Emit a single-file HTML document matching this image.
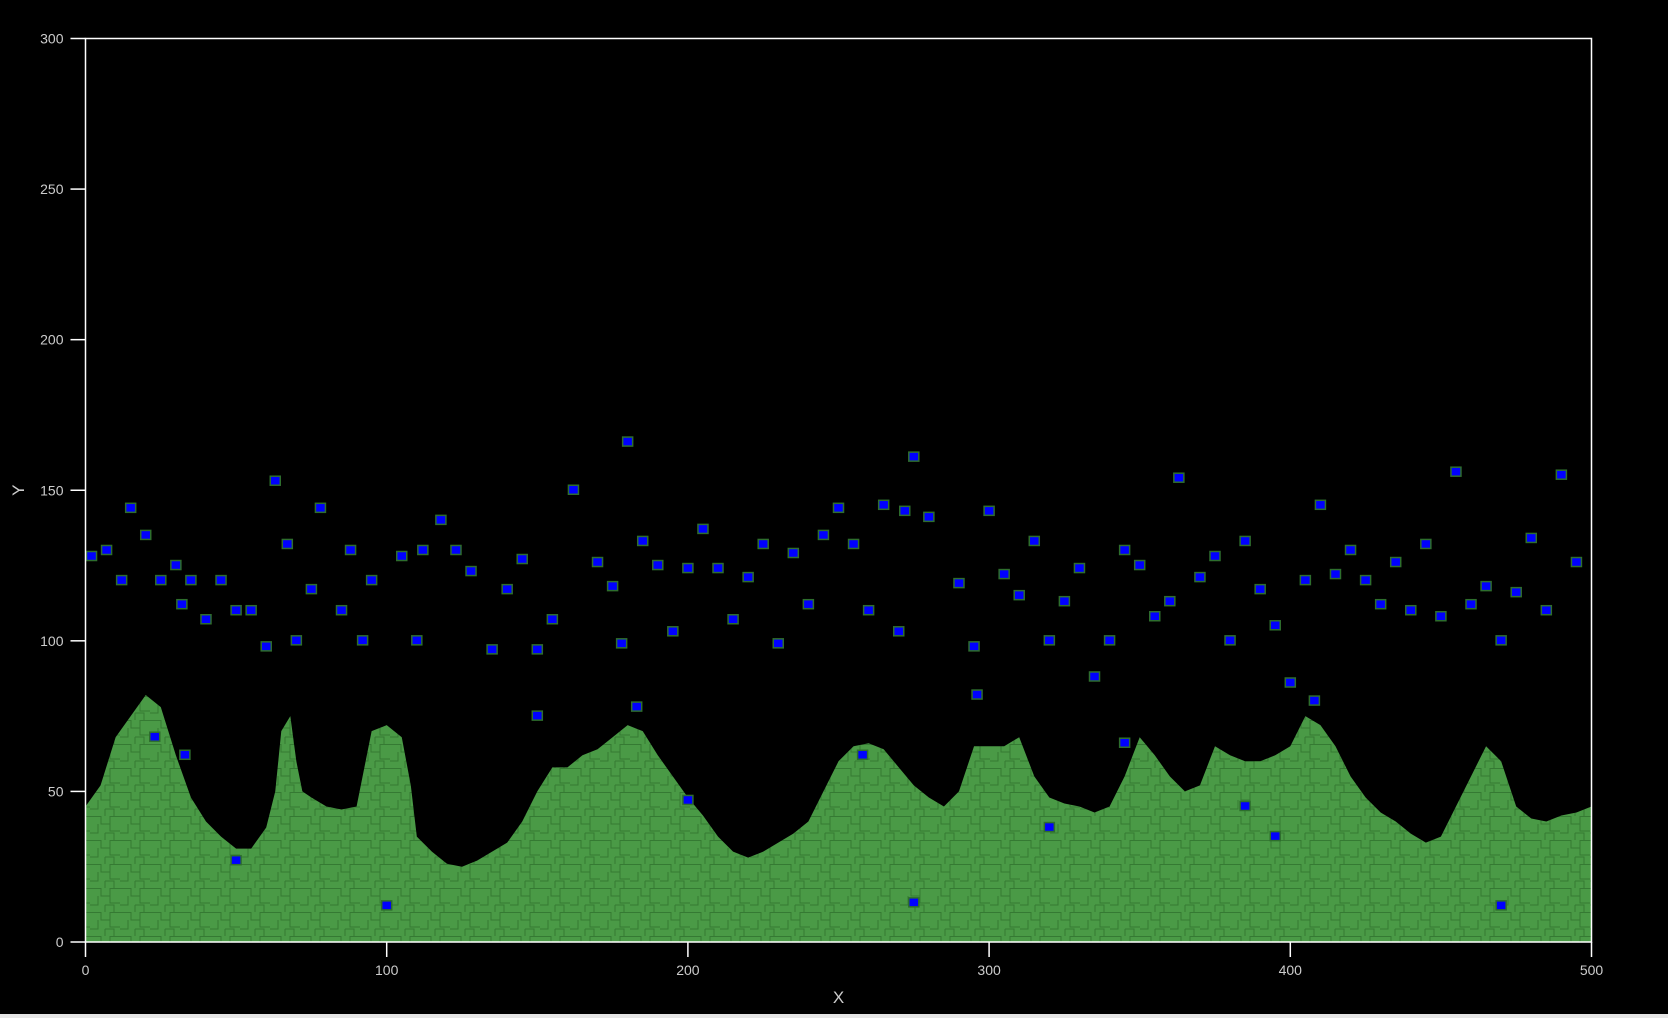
<!DOCTYPE html>
<html><head><meta charset="utf-8"><style>
html,body{margin:0;padding:0;background:#000;}
body{width:1668px;height:1018px;overflow:hidden;position:relative;font-family:"Liberation Sans",sans-serif;}
#strip{position:absolute;left:0;top:1014px;width:1668px;height:4px;background:#e6e6e6;}
</style></head><body>
<svg id="chart" width="1668" height="1014" style="position:absolute;left:0;top:0">
<defs>
<pattern id="cells" width="30" height="24" patternUnits="userSpaceOnUse">
<rect width="30" height="24" fill="#4a9a46"/>
<path d="M0 0.5H11V8H20V0.5H30M8 8V17H0M20 8V15H30M15 17V24M15 17H24V24" fill="none" stroke="#357a33" stroke-width="1"/>
</pattern>
</defs>
<g id="plot"></g>
<g id="axes"></g>
</svg>
<div id="strip"></div>
<script>
const profileX=[0,5,10,15,20,25,30,35,40,45,50,55,60,63,65,68,70,72,75,80,85,90,95,100,105,108,110,115,120,125,130,135,140,145,150,155,160,165,170,175,180,185,190,195,200,205,210,215,220,225,230,235,240,245,250,255,260,265,270,275,280,285,290,295,300,305,310,315,320,325,330,335,340,345,350,355,360,365,370,375,380,385,390,395,400,405,410,415,420,425,430,435,440,445,450,455,460,465,470,475,480,485,490,495,500];
const profileY=[45,52,68,75,82,78,62,48,40,35,31,31,38,50,70,75,60,50,48,45,44,45,70,72,68,52,35,30,26,25,27,30,33,40,50,58,58,62,64,68,72,70,62,55,48,42,35,30,28,30,33,36,40,50,60,65,66,64,58,52,48,45,50,65,65,65,68,55,48,46,45,43,45,55,68,62,55,50,52,65,62,60,60,62,65,75,72,65,55,48,43,40,36,33,35,45,55,65,60,45,41,40,42,43,45];
const particleX=[2,7,12,15,20,25,30,32,35,40,45,50,55,60,63,67,70,75,78,85,88,92,95,105,110,112,118,123,128,135,140,145,150,155,162,170,175,178,180,185,190,195,200,205,210,215,220,225,230,235,240,245,250,255,260,265,270,272,275,280,290,295,300,305,310,315,320,325,330,335,340,345,350,355,360,363,370,375,380,385,390,395,400,405,410,415,420,425,430,435,440,445,450,455,460,465,470,475,480,485,490,495,50,100,200,275,320,385,395,470,23,33,150,183,258,296,408,345];
const particleY=[128,130,120,144,135,120,125,112,120,107,120,110,110,98,153,132,100,117,144,110,130,100,120,128,100,130,140,130,123,97,117,127,97,107,150,126,118,99,166,133,125,103,124,137,124,107,121,132,99,129,112,135,144,132,110,145,103,143,161,141,119,98,143,122,115,133,100,113,124,88,100,130,125,108,113,154,121,128,100,133,117,105,86,120,145,122,130,120,112,126,110,132,108,156,112,118,100,116,134,110,155,126,27,12,47,13,38,45,35,12,68,62,75,78,62,82,80,66];
const xTicks=[0,100,200,300,400,500];
const yTicks=[0,50,100,150,200,250,300];
const L=85.5,R=1591.5,T=38.5,B=942;
const sx=v=>L+(v/500)*(R-L), sy=v=>B-(v/300)*(B-T);
const NS='http://www.w3.org/2000/svg';
const plot=document.getElementById('plot'), axes=document.getElementById('axes');
function mk(tag,attrs,parent){const e=document.createElementNS(NS,tag);for(const k in attrs)e.setAttribute(k,attrs[k]);parent.appendChild(e);return e;}
let d='M'+sx(0)+' '+B;
for(let i=0;i<profileX.length;i++){
  d+=' L'+sx(profileX[i])+' '+sy(profileY[i]);
}
d+=' L'+sx(500)+' '+B+' Z';
const terrain=mk('path',{d:d,fill:'url(#cells)'},plot);


for(let i=0;i<particleX.length;i++){
  const p=mk('rect',{x:sx(particleX[i])-5,y:sy(particleY[i])-5,width:10,height:9,fill:'#0000ff',stroke:'#2e6e2d','stroke-width':1.5},plot);
  
  
}
mk('rect',{x:L,y:T,width:R-L,height:B-T,fill:'none',stroke:'#fff','stroke-width':1.5},axes);
for(const t of xTicks){
  mk('line',{x1:sx(t),x2:sx(t),y1:B,y2:B+15,stroke:'#fff','stroke-width':1.5},axes);
  const tx=mk('text',{x:sx(t),y:B+33,fill:'#ccc','font-size':14,'text-anchor':'middle'},axes);
  tx.textContent=t;
  
  
}
for(const t of yTicks){
  mk('line',{x1:L-15,x2:L,y1:sy(t),y2:sy(t),stroke:'#fff','stroke-width':1.5},axes);
  const ty=mk('text',{x:L-22,y:sy(t)+5,fill:'#ccc','font-size':14,'text-anchor':'end'},axes);
  ty.textContent=t;
  
  
}
const xl=mk('text',{x:(L+R)/2,y:1003,fill:'#ccc','font-size':17,'text-anchor':'middle'},axes);
xl.textContent='X';


const yl=mk('text',{x:24,y:sy(150),fill:'#ccc','font-size':17,'text-anchor':'middle',transform:'rotate(-90 24 '+sy(150)+')'},axes);
yl.textContent='Y';


</script>
</body></html>
